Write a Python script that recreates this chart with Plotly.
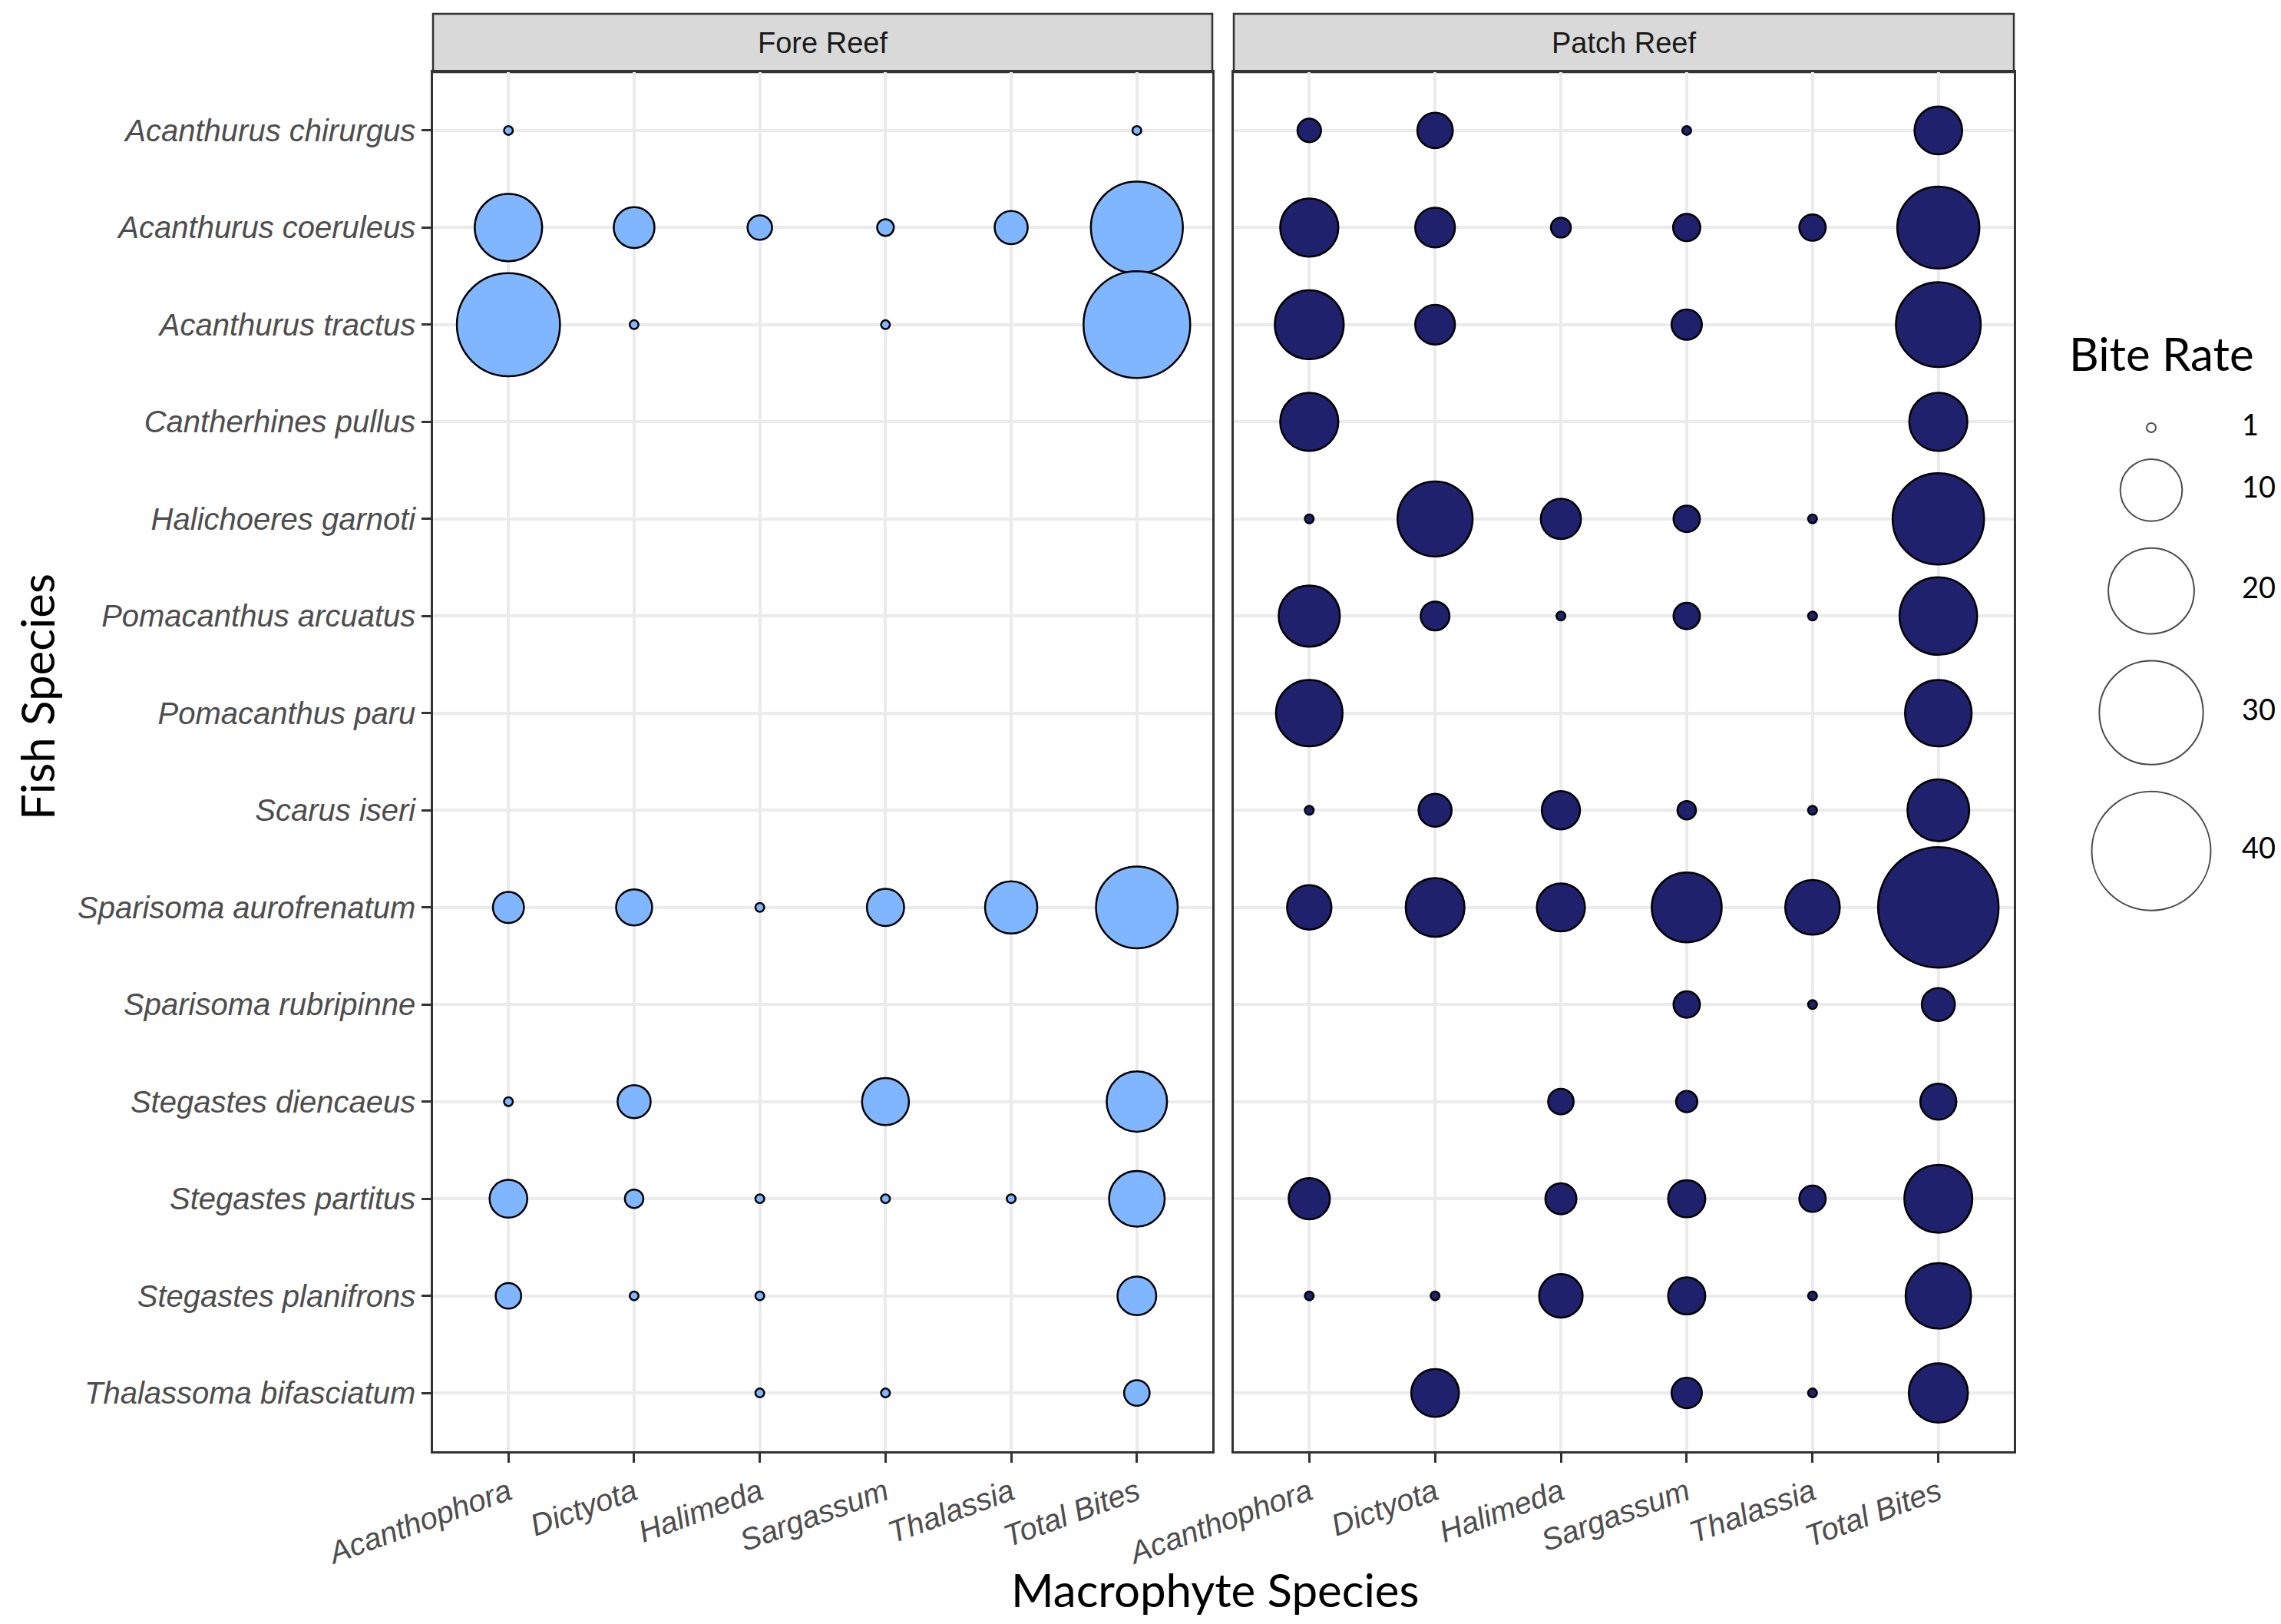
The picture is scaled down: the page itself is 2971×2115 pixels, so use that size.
import numpy as np
import plotly.graph_objects as go

W, H = 2971, 2115

species = [
    "Acanthurus chirurgus",
    "Acanthurus coeruleus",
    "Acanthurus tractus",
    "Cantherhines pullus",
    "Halichoeres garnoti",
    "Pomacanthus arcuatus",
    "Pomacanthus paru",
    "Scarus iseri",
    "Sparisoma aurofrenatum",
    "Sparisoma rubripinne",
    "Stegastes diencaeus",
    "Stegastes partitus",
    "Stegastes planifrons",
    "Thalassoma bifasciatum",
]
macrophytes = ["Acanthophora", "Dictyota", "Halimeda", "Sargassum", "Thalassia", "Total Bites"]
reefs = ["Fore Reef", "Patch Reef"]

N = None
# rows follow `species`, columns follow `macrophytes`
fore_bites = [
    [1.0, N, N, N, N, 1.0],
    [12.1, 4.3, 1.8, 1.2, 2.9, 23.4],
    [29.8, 1.0, N, 1.0, N, 32.0],
    [N, N, N, N, N, N],
    [N, N, N, N, N, N],
    [N, N, N, N, N, N],
    [N, N, N, N, N, N],
    [N, N, N, N, N, N],
    [2.6, 3.4, 1.0, 3.6, 7.1, 18.2],
    [N, N, N, N, N, N],
    [1.0, 2.9, N, 5.7, N, 9.6],
    [3.7, 1.3, 1.0, 1.0, 1.0, 8.1],
    [1.9, 1.0, 1.0, N, N, 3.9],
    [N, N, 1.0, 1.0, N, 1.9],
]
patch_bites = [
    [1.7, 3.3, N, 1.0, N, 5.9],
    [8.9, 4.1, 1.4, 2.1, 2.0, 18.4],
    [12.7, 4.1, N, 2.5, N, 19.7],
    [8.9, N, N, N, N, 8.9],
    [1.0, 15.2, 4.2, 2.0, 1.0, 23.1],
    [9.9, 2.3, 1.0, 2.0, 1.0, 16.3],
    [11.8, N, N, N, N, 11.8],
    [1.0, 2.9, 3.8, 1.3, 1.0, 10.1],
    [5.1, 9.1, 6.0, 13.1, 7.8, 41.4],
    [N, N, N, 2.0, 1.0, 2.9],
    [N, N, 1.9, 1.5, N, 3.4],
    [4.4, N, 2.6, 3.6, 2.0, 12.3],
    [1.0, 1.0, 4.9, 3.6, 1.0, 11.4],
    [N, 5.9, N, 2.5, 1.0, 9.2],
]
legend_breaks = [1, 10, 20, 30, 40]

fore_color = "#80B6FF"
patch_color = "#1F216C"

# size scale (area-like, like ggplot's scale_size): diameter in px
all_vals = [v for tab in (fore_bites, patch_bites) for r in tab for v in r if v is not None]
vmin, vmax = min(all_vals), max(all_vals)
D_MIN, D_MAX = 14.0, 159.5
LINE_W = 2.5


def diam(v):
    t = max(v - vmin, 0) / (vmax - vmin)
    return D_MIN + (D_MAX - D_MIN) * np.sqrt(t)


def px(xp):
    return xp / W


def py(yp):
    return 1 - yp / H


fig = go.Figure()

for k, (tab, col) in enumerate([(fore_bites, fore_color), (patch_bites, patch_color)]):
    xs, ys, sz, tx = [], [], [], []
    for i, row in enumerate(tab):
        for j, v in enumerate(row):
            if v is None:
                continue
            xs.append(macrophytes[j])
            ys.append(species[i])
            sz.append(diam(v) - LINE_W)
            tx.append(v)
    fig.add_trace(go.Scatter(
        x=xs, y=ys, mode="markers",
        xaxis="x" if k == 0 else "x2", yaxis="y" if k == 0 else "y2",
        marker=dict(size=sz, sizemode="diameter", color=col,
                    line=dict(color="black", width=LINE_W), opacity=1),
        text=tx, hovertemplate="%{y}<br>%{x}: %{text}<extra>" + reefs[k] + "</extra>",
        showlegend=False,
    ))

# size legend, drawn on a full-figure pixel axis
leg_d = [diam(b) for b in legend_breaks]
leg_y = [549.0]
for a, b in zip(leg_d[:-1], leg_d[1:]):
    leg_y.append(leg_y[-1] + (a + b) / 2 + 33)
fig.add_trace(go.Scatter(
    x=[2794] * len(legend_breaks), y=leg_y, mode="markers",
    xaxis="x3", yaxis="y3",
    marker=dict(size=[d - 2 for d in leg_d], color="white",
                line=dict(color="black", width=2)),
    hoverinfo="skip", showlegend=False,
))
fig.add_trace(go.Scatter(
    x=[2912] * len(legend_breaks), y=leg_y, mode="text",
    xaxis="x3", yaxis="y3",
    text=[str(b) for b in legend_breaks], textposition="middle right",
    textfont=dict(family="Lato, Open Sans, sans-serif", size=38, color="black"),
    hoverinfo="skip", showlegend=False,
))

tick_font = dict(family="Liberation Sans, Arial, sans-serif", size=40, color="#4D4D4D", style="italic")
panel_x = [(556, 1571), (1599, 2615)]
plot_top, plot_bot = 86, 1882

xcommon = dict(
    type="category", categoryorder="array", categoryarray=macrophytes,
    range=[-0.6, len(macrophytes) - 0.4],
    showgrid=True, gridcolor="#EBEBEB", gridwidth=4,
    showline=True, mirror=True, linecolor="#333333", linewidth=2.5,
    ticks="outside", ticklen=12, tickwidth=2.5, tickcolor="#333333",
    tickangle=-20, tickfont=tick_font, zeroline=False, automargin=False,
    fixedrange=True,
)
ycommon = dict(
    type="category", categoryorder="array", categoryarray=species,
    range=[len(species) - 0.4, -0.6],
    showgrid=True, gridcolor="#EBEBEB", gridwidth=4,
    showline=True, mirror=True, linecolor="#333333", linewidth=2.5,
    zeroline=False, automargin=False, fixedrange=True,
    domain=[py(plot_bot), py(plot_top)],
)

shapes, annotations = [], []
for k, (x0, x1) in enumerate(panel_x):
    shapes.append(dict(type="rect", xref="paper", yref="paper",
                       x0=px(x0), x1=px(x1), y0=py(plot_top), y1=py(10),
                       fillcolor="#D9D9D9", line=dict(color="#333333", width=2.5),
                       layer="below"))
    annotations.append(dict(text=reefs[k], xref="paper", yref="paper",
                            x=(px(x0) + px(x1)) / 2, y=py(48), showarrow=False,
                            xanchor="center", yanchor="middle",
                            font=dict(family="Liberation Sans, Arial, sans-serif",
                                      size=38, color="#1A1A1A")))

title_font = dict(family="Lato, Open Sans, sans-serif", size=60, color="black")
annotations += [
    dict(text="Macrophyte Species", xref="paper", yref="paper", x=px(1575), y=py(2062),
         showarrow=False, xanchor="center", yanchor="middle", font=title_font),
    dict(text="Fish Species", xref="paper", yref="paper", x=px(40), y=py(900),
         showarrow=False, xanchor="center", yanchor="middle", textangle=-90, font=title_font),
    dict(text="Bite Rate", xref="paper", yref="paper", x=px(2807), y=py(452),
         showarrow=False, xanchor="center", yanchor="middle",
         font=dict(family="Lato, Open Sans, sans-serif", size=60, color="black")),
]

fig.update_layout(
    width=W, height=H,
    margin=dict(l=0, r=0, t=0, b=0),
    paper_bgcolor="white", plot_bgcolor="rgba(0,0,0,0)",
    xaxis=dict(xcommon, domain=[px(556), px(1571)], anchor="y"),
    xaxis2=dict(xcommon, domain=[px(1599), px(2615)], anchor="y2"),
    yaxis=dict(ycommon, anchor="x", ticks="outside", ticklen=12, tickwidth=2.5,
               tickcolor="#333333", tickfont=tick_font),
    yaxis2=dict(ycommon, anchor="x2", showticklabels=False, ticks=""),
    xaxis3=dict(domain=[0, 1], range=[0, W], visible=False, anchor="y3", fixedrange=True),
    yaxis3=dict(domain=[0, 1], range=[H, 0], visible=False, anchor="x3", fixedrange=True),
    shapes=shapes, annotations=annotations,
    showlegend=False,
)

fig.write_html("out.html")
